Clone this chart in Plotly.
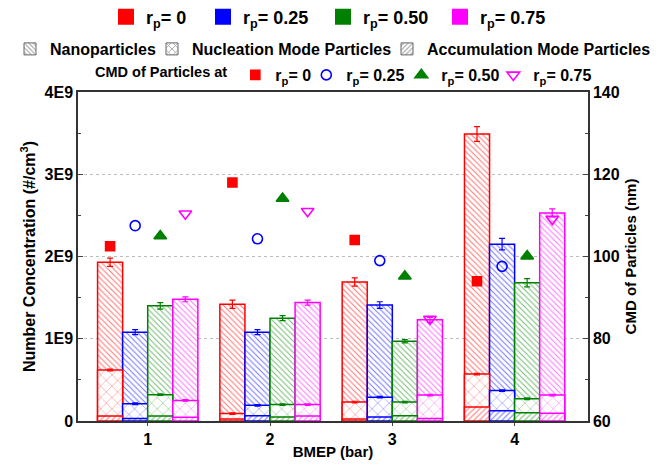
import plotly.graph_objects as go

# ---------------- data ----------------
bmep = [1, 2, 3, 4]
rp_names = ["r<sub>p</sub>= 0", "r<sub>p</sub>= 0.25", "r<sub>p</sub>= 0.50", "r<sub>p</sub>= 0.75"]
colors = ["#FF0000", "#0000FF", "#008000", "#FF00FF"]

# Number concentration in units of 1E9 #/cm3
# Total (nanoparticles) level
total_rp0 = [1.93, 1.42, 1.69, 3.49]
total_rp25 = [1.08, 1.08, 1.41, 2.15]
total_rp50 = [1.40, 1.25, 0.97, 1.68]
total_rp75 = [1.48, 1.44, 1.23, 2.53]
# Nucleation mode level
nucl_rp0 = [0.62, 0.09, 0.23, 0.57]
nucl_rp25 = [0.21, 0.19, 0.29, 0.37]
nucl_rp50 = [0.32, 0.20, 0.23, 0.27]
nucl_rp75 = [0.25, 0.20, 0.315, 0.315]
# Accumulation mode level
accu_rp0 = [0.06, 0.025, 0.025, 0.17]
accu_rp25 = [0.03, 0.065, 0.05, 0.125]
accu_rp50 = [0.06, 0.05, 0.065, 0.10]
accu_rp75 = [0.045, 0.06, 0.03, 0.093]
# error bars
err_total_rp0 = [0.05, 0.05, 0.05, 0.09]
err_total_rp25 = [0.03, 0.03, 0.04, 0.07]
err_total_rp50 = [0.04, 0.03, 0.02, 0.05]
err_total_rp75 = [0.03, 0.03, 0.03, 0.05]
err_nucl = [0.01, 0.01, 0.01, 0.01]

# CMD of particles (nm)
cmd_rp0 = [102.5, 118.0, 104.0, 94.0]
cmd_rp25 = [107.5, 104.3, 99.0, 97.6]
cmd_rp50 = [105.0, 114.1, 95.2, 100.1]
cmd_rp75 = [110.4, 111.0, 84.8, 109.1]

mode_names = ["Nanoparticles", "Nucleation Mode Particles", "Accumulation Mode Particles"]
y_tickvals = [0, 1, 2, 3, 4]
y_ticktext = ["0", "1E9", "2E9", "3E9", "4E9"]

# ---------------- figure ----------------
totals = [total_rp0, total_rp25, total_rp50, total_rp75]
nucls = [nucl_rp0, nucl_rp25, nucl_rp50, nucl_rp75]
accus = [accu_rp0, accu_rp25, accu_rp50, accu_rp75]
errs = [err_total_rp0, err_total_rp25, err_total_rp50, err_total_rp75]
cmds = [cmd_rp0, cmd_rp25, cmd_rp50, cmd_rp75]

bar_w = 0.205
offsets = [(i - 1.5) * bar_w for i in range(4)]

FONT = "Liberation Sans, Arial, sans-serif"
fig = go.Figure()

levels = [
    (totals, "\\", 4, 0.25, errs),
    (nucls, "x", 8, 0.12, [err_nucl] * 4),
    (accus, "/", 4, 0.25, None),
]
for vals, shape, psize, psol, errset in levels:
    for i in range(4):
        xs = [b + offsets[i] for b in bmep]
        kw = {}
        if errset is not None:
            kw["error_y"] = dict(type="data", array=errset[i], color=colors[i],
                                 thickness=1.2, width=3)
        fig.add_trace(go.Bar(
            x=xs, y=vals[i], width=bar_w,
            marker=dict(color="white", line=dict(color=colors[i], width=1.5),
                        pattern=dict(shape=shape, fgcolor=colors[i], fgopacity=0.55,
                                     size=psize, solidity=psol, fillmode="overlay")),
            showlegend=False, hoverinfo="skip", **kw))

# CMD markers (right axis)
symbols = ["square", "circle-open", "triangle-up", "triangle-down-open"]
msizes = [9, 10, 11, 11]
leg3_widths = [26, 50, 47, 62]
for i in range(4):
    xs = [b + offsets[i] for b in bmep]
    fig.add_trace(go.Scatter(
        x=xs, y=cmds[i], yaxis="y2", mode="markers", name=rp_names[i],
        marker=dict(symbol=symbols[i], size=msizes[i], color=colors[i],
                    line=dict(color=colors[i], width=1.6)),
        legend="legend3", legendwidth=leg3_widths[i]))

# legend keys: colour (row 1)
leg1_widths = [52, 75, 72, 68]
for i in range(4):
    fig.add_trace(go.Scatter(
        x=[None], y=[None], mode="markers", name=rp_names[i],
        marker=dict(symbol="square", size=16, color=colors[i]),
        legend="legend", legendwidth=leg1_widths[i]))
# legend keys: hatch (row 2), one legend box per entry
row2_legends = ["legend2", "legend4", "legend5"]
for name, shape, psize, lg in zip(mode_names, ["\\", "x", "/"], [4, 6, 4], row2_legends):
    fig.add_trace(go.Bar(
        x=[None], y=[None], name=name, width=bar_w,
        marker=dict(color="white", line=dict(color="#666", width=1),
                    pattern=dict(shape=shape, fgcolor="#333", size=psize,
                                 solidity=0.3, fillmode="overlay")),
        legend=lg))


def leg(xpx, ypx, size, **extra):
    return dict(orientation="h", xref="container", yref="container",
                x=xpx / 659, xanchor="left", y=1 - ypx / 466, yanchor="middle",
                font=dict(size=size), bgcolor="rgba(0,0,0,0)", **extra)


axis_line = dict(showline=True, linecolor="#333", linewidth=1.5)
fig.update_layout(
    width=659, height=466,
    margin=dict(l=78, r=71, t=92, b=45, autoexpand=False),
    barmode="overlay",
    plot_bgcolor="white", paper_bgcolor="white",
    font=dict(family=FONT, size=16, color="black", weight="bold"),
    xaxis=dict(range=[0.43, 4.6], tickvals=bmep, ticks="outside", ticklen=3,
               tickfont=dict(size=16), mirror=True, showgrid=False, zeroline=False,
               title=dict(text="BMEP (bar)", font=dict(size=15), standoff=0),
               **axis_line),
    yaxis=dict(range=[0, 4], tickvals=y_tickvals, ticktext=y_ticktext,
               ticks="inside", ticklen=5, tickfont=dict(size=16),
               minor=dict(ticks="inside", ticklen=3, dtick=0.5, showgrid=False),
               showgrid=True, gridcolor="#bdbdbd", griddash="dot", gridwidth=1,
               zeroline=False,
               title=dict(text="Number Concentration (#/cm<sup>3</sup>)",
                          font=dict(size=16), standoff=5),
               **axis_line),
    yaxis2=dict(range=[60, 140], dtick=20, overlaying="y", side="right",
                ticks="inside", ticklen=5, tickfont=dict(size=16),
                minor=dict(ticks="inside", ticklen=3, dtick=10, showgrid=False),
                showgrid=False, zeroline=False,
                title=dict(text="CMD of Particles (nm)", font=dict(size=15), standoff=7),
                **axis_line),
    legend=leg(106, 17, 18, itemsizing="trace"),
    legend2=leg(10, 49, 16),
    legend4=leg(152, 49, 16),
    legend5=leg(387, 49, 16),
    legend3=leg(93, 75, 16,
                title=dict(text="CMD of Particles at", side="left", font=dict(size=14.5))),
)

fig.write_html("out.html", config={"displayModeBar": False},
               post_script="document.body.style.margin='0px';")
